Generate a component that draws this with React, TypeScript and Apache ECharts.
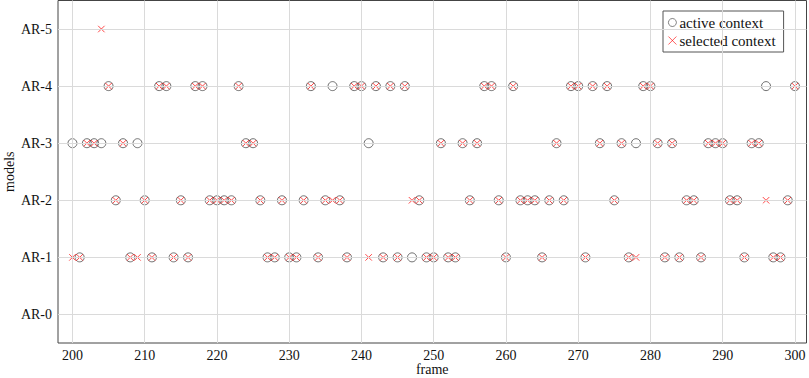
import React, { useEffect, useRef } from "react";
import * as echarts from "echarts";

const models = ["AR-0", "AR-1", "AR-2", "AR-3", "AR-4", "AR-5"];
const xTicks = [200, 210, 220, 230, 240, 250, 260, 270, 280, 290, 300];

// active context frames per model index
const activeAR1 = [201, 208, 211, 214, 216, 227, 228, 230, 231, 234, 238, 243, 245, 247, 249, 250, 252, 253, 260, 265, 271, 277, 282, 284, 287, 293, 297, 298];
const activeAR2 = [206, 210, 215, 219, 220, 221, 222, 226, 229, 232, 235, 237, 248, 255, 259, 262, 263, 264, 266, 268, 275, 285, 286, 291, 292, 299];
const activeAR3 = [200, 202, 203, 204, 207, 209, 224, 225, 241, 251, 254, 256, 267, 273, 276, 278, 281, 283, 288, 289, 290, 294, 295];
const activeAR4 = [205, 212, 213, 217, 218, 223, 233, 236, 239, 240, 242, 244, 246, 257, 258, 261, 269, 270, 272, 274, 279, 280, 296, 300];

// selected context frames per model index
const selectedAR1 = [200, 201, 208, 209, 211, 214, 216, 227, 228, 230, 231, 234, 238, 241, 243, 245, 249, 250, 252, 253, 260, 265, 271, 277, 278, 282, 284, 287, 293, 297, 298];
const selectedAR2 = [206, 210, 215, 219, 220, 221, 222, 226, 229, 232, 235, 236, 237, 247, 248, 255, 259, 262, 263, 264, 266, 268, 275, 285, 286, 291, 292, 296, 299];
const selectedAR3 = [202, 203, 207, 224, 225, 251, 254, 256, 267, 273, 276, 281, 283, 288, 289, 290, 294, 295];
const selectedAR4 = [205, 212, 213, 217, 218, 223, 233, 239, 240, 242, 244, 246, 257, 258, 261, 269, 270, 272, 274, 279, 280, 300];
const selectedAR5 = [204];

const toPoints = (rows: [number, number[]][]) =>
  rows.flatMap(([m, frames]) => frames.map((f) => [f, m]));

const FONT = "'Liberation Serif', 'DejaVu Serif', serif";

export default function App() {
  const ref = useRef<HTMLDivElement>(null);
  useEffect(() => {
    if (!ref.current) return;
    const chart = echarts.init(ref.current, null, { renderer: "svg" });
    const activeData = toPoints([
      [1, activeAR1],
      [2, activeAR2],
      [3, activeAR3],
      [4, activeAR4],
    ]);
    const selectedData = toPoints([
      [1, selectedAR1],
      [2, selectedAR2],
      [3, selectedAR3],
      [4, selectedAR4],
      [5, selectedAR5],
    ]);
    chart.setOption({
      animation: false,
      textStyle: { fontFamily: FONT },
      grid: {
        left: 58,
        right: 2.5,
        top: 0.5,
        bottom: 35,
        containLabel: false,
        outerBoundsMode: "none",
        show: true,
        borderColor: "#444",
        borderWidth: 1,
        backgroundColor: "transparent",
      },
      legend: {
        data: ["active context", "selected context"],
        orient: "vertical",
        left: 663,
        top: 11,
        padding: [3, 8, 3, 5],
        itemGap: 1,
        itemWidth: 8,
        itemHeight: 8,
        backgroundColor: "#fff",
        borderColor: "#555",
        borderWidth: 1,
        borderRadius: 0,
        itemStyle: { borderWidth: 0.8 },
        textStyle: { fontFamily: FONT, fontSize: 15, color: "#111", lineHeight: 17, padding: [0, 0, 0, -2] },
      },
      xAxis: {
        type: "value",
        min: 198,
        max: 301.6,
        name: "frame",
        nameLocation: "middle",
        nameGap: 19,
        nameMoveOverlap: false,
        nameTextStyle: { fontFamily: FONT, fontSize: 14, color: "#111" },
        axisLine: { show: false },
        axisTick: { show: false },
        splitLine: { show: false },
        axisLabel: {
          customValues: xTicks,
          fontFamily: FONT,
          fontSize: 14,
          color: "#111",
          margin: 5,
        },
      },
      yAxis: {
        type: "value",
        min: -0.5,
        max: 5.5,
        name: "models",
        nameLocation: "middle",
        nameGap: 42,
        nameMoveOverlap: false,
        nameTextStyle: { fontFamily: FONT, fontSize: 14, color: "#111" },
        axisLine: { show: false },
        axisTick: { show: false },
        splitLine: { show: false },
        axisLabel: {
          customValues: models.map((_, i) => i),
          formatter: (v: number) => models[Math.round(v)] ?? "",
          fontFamily: FONT,
          fontSize: 14,
          color: "#111",
          margin: 6,
        },
      },
      series: [
        {
          type: "scatter",
          data: [],
          silent: true,
          markLine: {
            silent: true,
            symbol: ["none", "none"],
            label: { show: false },
            lineStyle: { color: "#dadada", width: 1, type: "solid" },
            data: [
              ...xTicks.map((v) => ({ xAxis: v })),
              ...models.map((_, i) => ({ yAxis: i })),
            ],
          },
        },
        {
          name: "active context",
          type: "scatter",
          symbol: "circle",
          symbolSize: 9,
          data: activeData,
          itemStyle: { color: "transparent", borderColor: "#3a3a3a", borderWidth: 0.9 },
        },
        {
          name: "selected context",
          type: "scatter",
          symbol: "path://M0,0L10,10M0,10L10,0",
          symbolSize: 6.5,
          data: selectedData,
          itemStyle: { color: "transparent", borderColor: "#ff0000", borderWidth: 0.9 },
        },
      ],
    });
    return () => chart.dispose();
  }, []);
  return <div ref={ref} style={{ width: 809, height: 378, position: "absolute", left: 0, top: 0 }} />;
}
